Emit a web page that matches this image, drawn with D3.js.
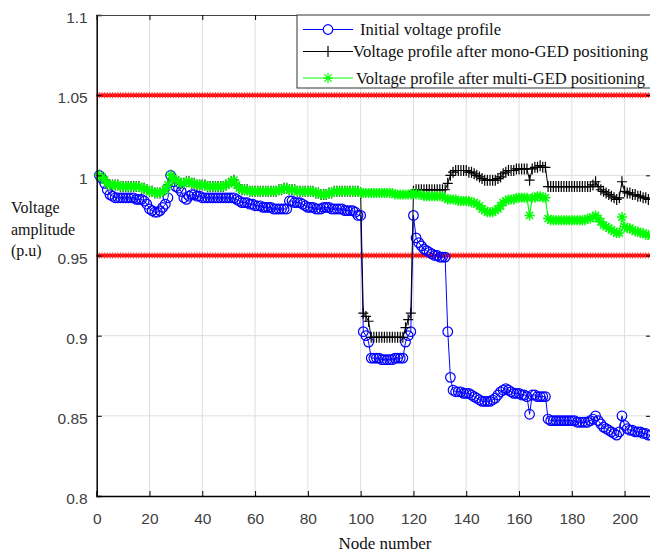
<!DOCTYPE html>
<html>
<head>
<meta charset="utf-8">
<script src="https://cdn.jsdelivr.net/npm/d3@7"></script>
<style>
  body { margin: 0; background: #fff; }
  svg { display: block; }
</style>
</head>
<body>
<svg width="650" height="554"></svg>
<script>
// voltage per node (p.u), node number = index + 1
const initialV = [
  1.000, 0.998, 0.995, 0.991, 0.988, 0.987, 0.986, 0.986, 0.986, 0.986,
  0.986, 0.986, 0.986, 0.986, 0.985, 0.985, 0.985, 0.984, 0.982, 0.979,
  0.978, 0.977, 0.977, 0.978, 0.980, 0.982, 0.986, 1.000, 0.996, 0.993,
  0.992, 0.990, 0.986, 0.985, 0.987, 0.988, 0.988, 0.987, 0.987, 0.986,
  0.986, 0.986, 0.986, 0.986, 0.986, 0.986, 0.986, 0.986, 0.986, 0.986,
  0.986, 0.986, 0.985, 0.984, 0.983, 0.983, 0.983, 0.982, 0.982, 0.981,
  0.981, 0.981, 0.980, 0.980, 0.980, 0.980, 0.979, 0.979, 0.979, 0.979,
  0.979, 0.979, 0.984, 0.984, 0.983, 0.983, 0.983, 0.982, 0.981, 0.980,
  0.980, 0.980, 0.979, 0.979, 0.979, 0.980, 0.980, 0.980, 0.979, 0.979,
  0.979, 0.979, 0.979, 0.978, 0.978, 0.978, 0.978, 0.977, 0.975, 0.975,
  0.9025, 0.900, 0.896, 0.886, 0.886, 0.886, 0.886, 0.885, 0.885, 0.885,
  0.885, 0.885, 0.886, 0.886, 0.886, 0.886, 0.896, 0.900, 0.9025, 0.975,
  0.961, 0.958, 0.956, 0.954, 0.953, 0.952, 0.951, 0.950, 0.950, 0.949,
  0.949, 0.949, 0.9025, 0.874, 0.866, 0.865, 0.865, 0.865, 0.864, 0.864,
  0.864, 0.863, 0.862, 0.861, 0.860, 0.859, 0.859, 0.859, 0.859, 0.860,
  0.861, 0.863, 0.865, 0.866, 0.867, 0.866, 0.865, 0.864, 0.864, 0.864,
  0.863, 0.863, 0.862, 0.851, 0.863, 0.863, 0.862, 0.862, 0.862, 0.862,
  0.848, 0.847, 0.847, 0.847, 0.847, 0.847, 0.847, 0.847, 0.847, 0.847,
  0.847, 0.846, 0.846, 0.846, 0.846, 0.846, 0.847, 0.848, 0.850, 0.847,
  0.845, 0.843, 0.842, 0.841, 0.840, 0.839, 0.838, 0.840, 0.850, 0.844,
  0.842, 0.841, 0.841, 0.840, 0.840, 0.840, 0.839, 0.839, 0.838, 0.838
];

const monoV = [
  1.000, 0.999, 0.997, 0.995, 0.994, 0.994, 0.994, 0.994, 0.993, 0.993,
  0.993, 0.993, 0.993, 0.993, 0.993, 0.993, 0.992, 0.992, 0.991, 0.990,
  0.990, 0.989, 0.989, 0.989, 0.990, 0.991, 0.994, 1.000, 0.998, 0.997,
  0.996, 0.995, 0.995, 0.996, 0.996, 0.995, 0.995, 0.994, 0.994, 0.994,
  0.994, 0.993, 0.993, 0.993, 0.993, 0.993, 0.993, 0.993, 0.994, 0.995,
  0.996, 0.997, 0.994, 0.992, 0.991, 0.991, 0.991, 0.990, 0.990, 0.990,
  0.990, 0.990, 0.990, 0.990, 0.990, 0.990, 0.990, 0.990, 0.991, 0.991,
  0.992, 0.992, 0.991, 0.991, 0.991, 0.990, 0.990, 0.990, 0.990, 0.990,
  0.990, 0.990, 0.989, 0.989, 0.988, 0.988, 0.988, 0.989, 0.989, 0.990,
  0.990, 0.990, 0.990, 0.990, 0.990, 0.990, 0.990, 0.990, 0.990, 0.989,
  0.914, 0.912, 0.909, 0.899, 0.899, 0.899, 0.899, 0.899, 0.899, 0.899,
  0.899, 0.899, 0.899, 0.899, 0.899, 0.899, 0.905, 0.910, 0.914, 0.990,
  0.991, 0.991, 0.991, 0.991, 0.991, 0.991, 0.991, 0.991, 0.991, 0.991,
  0.991, 0.991, 0.995, 1.000, 1.002, 1.003, 1.003, 1.003, 1.003, 1.003,
  1.002, 1.002, 1.001, 1.000, 0.999, 0.998, 0.997, 0.997, 0.997, 0.997,
  0.997, 0.998, 0.999, 1.001, 1.002, 1.003, 1.003, 1.003, 1.004, 1.004,
  1.004, 1.004, 1.004, 0.997, 1.004, 1.005, 1.005, 1.006, 1.005, 1.005,
  0.993, 0.993, 0.993, 0.993, 0.993, 0.993, 0.993, 0.993, 0.993, 0.993,
  0.993, 0.993, 0.993, 0.993, 0.993, 0.993, 0.993, 0.994, 0.996, 0.993,
  0.991, 0.990, 0.989, 0.988, 0.987, 0.986, 0.985, 0.986, 0.996, 0.990,
  0.989, 0.989, 0.988, 0.988, 0.987, 0.987, 0.986, 0.986, 0.985, 0.985
];

const multiV = [
  1.000, 0.999, 0.997, 0.995, 0.994, 0.994, 0.994, 0.994, 0.993, 0.993,
  0.993, 0.993, 0.993, 0.993, 0.993, 0.993, 0.992, 0.992, 0.991, 0.990,
  0.990, 0.989, 0.989, 0.989, 0.990, 0.991, 0.994, 1.000, 0.998, 0.997,
  0.996, 0.995, 0.995, 0.996, 0.996, 0.995, 0.995, 0.994, 0.994, 0.994,
  0.994, 0.993, 0.993, 0.993, 0.993, 0.993, 0.993, 0.993, 0.994, 0.995,
  0.996, 0.997, 0.994, 0.992, 0.991, 0.991, 0.991, 0.990, 0.990, 0.990,
  0.990, 0.990, 0.990, 0.990, 0.990, 0.990, 0.990, 0.990, 0.991, 0.991,
  0.992, 0.992, 0.991, 0.991, 0.991, 0.990, 0.990, 0.990, 0.990, 0.990,
  0.990, 0.990, 0.989, 0.989, 0.988, 0.988, 0.988, 0.989, 0.989, 0.990,
  0.990, 0.990, 0.990, 0.990, 0.990, 0.990, 0.990, 0.990, 0.990, 0.989,
  0.989, 0.989, 0.989, 0.989, 0.989, 0.989, 0.989, 0.989, 0.989, 0.989,
  0.989, 0.989, 0.988, 0.988, 0.988, 0.988, 0.988, 0.988, 0.988, 0.989,
  0.988, 0.988, 0.988, 0.987, 0.987, 0.987, 0.987, 0.987, 0.987, 0.987,
  0.987, 0.986, 0.985, 0.985, 0.985, 0.985, 0.984, 0.984, 0.984, 0.984,
  0.984, 0.983, 0.983, 0.982, 0.981, 0.979, 0.978, 0.977, 0.977, 0.977,
  0.978, 0.979, 0.981, 0.983, 0.984, 0.985, 0.985, 0.985, 0.986, 0.986,
  0.986, 0.986, 0.986, 0.975, 0.986, 0.986, 0.987, 0.987, 0.986, 0.986,
  0.973, 0.972, 0.972, 0.972, 0.972, 0.972, 0.972, 0.972, 0.972, 0.972,
  0.972, 0.972, 0.972, 0.972, 0.972, 0.973, 0.973, 0.974, 0.975, 0.973,
  0.971, 0.969, 0.968, 0.967, 0.966, 0.965, 0.964, 0.964, 0.974, 0.968,
  0.967, 0.967, 0.966, 0.965, 0.965, 0.964, 0.964, 0.963, 0.963, 0.962
];

const limits = [1.05, 0.95];
const xTicks = [0, 20, 40, 60, 80, 100, 120, 140, 160, 180, 200];
const yTicks = [0.8, 0.85, 0.9, 0.95, 1, 1.05, 1.1];
const legendLabels = [
  "Initial voltage profile",
  "Voltage profile after mono-GED positioning",
  "Voltage profile after multi-GED positioning"
];

let pLeft = 96.7, pRight = 651, pTop = 15, pBottom = 496;

let svg = d3.select("svg");

let xScale = d3.scaleLinear().domain([0, 210]).range([pLeft, pRight]);
let yScale = d3.scaleLinear().domain([0.8, 1.1]).range([pBottom, pTop]);

let nodes = initialV.map((v, i) => i + 1);

let line = (vals) => d3.line()
    .x((d, i) => xScale(nodes[i]))
    .y(d => yScale(d))(vals);

// grid
let grid = svg.append("g").attr("stroke", "#dedede").attr("stroke-width", 1);
grid.selectAll(".gx")
    .data(xTicks.slice(1))
    .enter()
    .append("line")
    .attr("x1", d => xScale(d)).attr("x2", d => xScale(d))
    .attr("y1", pTop).attr("y2", pBottom);
grid.selectAll(".gy")
    .data(yTicks.slice(1, -1))
    .enter()
    .append("line")
    .attr("x1", pLeft).attr("x2", pRight)
    .attr("y1", d => yScale(d)).attr("y2", d => yScale(d));

// limit lines
limits.forEach(l => {
    svg.append("line")
        .attr("x1", pLeft).attr("x2", pRight)
        .attr("y1", yScale(l)).attr("y2", yScale(l))
        .attr("stroke", "#ff0000")
        .attr("stroke-width", 3.5);
    svg.append("g").selectAll("line")
        .data(nodes)
        .enter()
        .append("line")
        .attr("x1", d => xScale(d)).attr("x2", d => xScale(d))
        .attr("y1", yScale(l) - 3).attr("y2", yScale(l) + 3)
        .attr("stroke", "#ff3030")
        .attr("stroke-width", 1);
});

let plusPath = "M-5,0H5M0,-5.5V5.5";
let starPath = "M-5,0H5M0,-5V5M-3.6,-3.6L3.6,3.6M-3.6,3.6L3.6,-3.6";

// initial profile
svg.append("path")
    .attr("d", line(initialV))
    .attr("fill", "none")
    .attr("stroke", "#0000ff")
    .attr("stroke-width", 1);
svg.append("g").selectAll("circle")
    .data(initialV)
    .enter()
    .append("circle")
    .attr("cx", (d, i) => xScale(nodes[i]))
    .attr("cy", d => yScale(d))
    .attr("r", 4.8)
    .attr("fill", "none")
    .attr("stroke", "#0000ff")
    .attr("stroke-width", 1.2);

// mono-GED
svg.append("path")
    .attr("d", line(monoV))
    .attr("fill", "none")
    .attr("stroke", "#000")
    .attr("stroke-width", 1);
svg.append("g").selectAll("path")
    .data(monoV)
    .enter()
    .append("path")
    .attr("d", plusPath)
    .attr("transform", (d, i) => "translate(" + xScale(nodes[i]) + "," + yScale(d) + ")")
    .attr("stroke", "#000")
    .attr("stroke-width", 1.2);

// multi-GED
svg.append("path")
    .attr("d", line(multiV))
    .attr("fill", "none")
    .attr("stroke", "#00ff00")
    .attr("stroke-width", 1.2);
svg.append("g").selectAll("path")
    .data(multiV)
    .enter()
    .append("path")
    .attr("d", starPath)
    .attr("transform", (d, i) => "translate(" + xScale(nodes[i]) + "," + yScale(d) + ")")
    .attr("stroke", "#00ff00")
    .attr("stroke-width", 1.5);

// axes
let xAxis = d3.axisBottom(xScale)
    .tickValues(xTicks)
    .tickSize(-5)
    .tickPadding(17)
    .tickFormat(d3.format("d"));
let gx = svg.append("g")
    .attr("transform", "translate(0," + pBottom + ")")
    .call(xAxis);
gx.select(".domain").attr("stroke", "#000").attr("stroke-width", 1.5);

let yAxis = d3.axisLeft(yScale)
    .tickValues(yTicks)
    .tickSize(-5)
    .tickPadding(9)
    .tickFormat(d => d);
let gy = svg.append("g")
    .attr("transform", "translate(" + pLeft + ",0)")
    .call(yAxis);
gy.select(".domain").attr("stroke", "#000").attr("stroke-width", 1.5);
gy.selectAll("text").attr("dy", "0.5em");

svg.append("g")
    .attr("transform", "translate(0," + pTop + ")")
    .call(d3.axisTop(xScale).tickValues(xTicks).tickSize(-5).tickFormat(""))
    .select(".domain").attr("stroke", "#444");
svg.append("g")
    .attr("transform", "translate(" + pRight + ",0)")
    .call(d3.axisRight(yScale).tickValues(yTicks).tickSize(-5).tickFormat(""));

svg.selectAll(".tick text")
    .attr("fill", "#404040")
    .style("font-family", "Liberation Sans, Arial, sans-serif")
    .style("font-size", "15.5px");

// axis titles
svg.append("text")
    .attr("x", 385).attr("y", 549)
    .attr("text-anchor", "middle")
    .style("font-family", "Liberation Serif, serif")
    .style("font-size", "17px")
    .attr("fill", "#111")
    .text("Node number");

let yTitle = ["Voltage", "amplitude", "(p.u)"];
svg.append("g").selectAll("text")
    .data(yTitle)
    .enter()
    .append("text")
    .attr("x", 11)
    .attr("y", (d, i) => 213 + i * 21.5)
    .style("font-family", "Liberation Serif, serif")
    .style("font-size", "16px")
    .attr("fill", "#111")
    .text(d => d);

// legend
let legend = svg.append("g");
legend.append("rect")
    .attr("x", 297).attr("y", 15)
    .attr("width", 370).attr("height", 73)
    .attr("fill", "#fff")
    .attr("stroke", "#333")
    .attr("stroke-width", 1);

let legendY = [29.5, 51.5, 78];
let legendTextX = [360, 353, 356];
let legendTextW = [141, 295, 289];
let legendColors = ["#0000ff", "#000", "#00ff00"];

legendLabels.forEach((lab, i) => {
    legend.append("line")
        .attr("x1", 303).attr("x2", 353)
        .attr("y1", legendY[i]).attr("y2", legendY[i])
        .attr("stroke", legendColors[i])
        .attr("stroke-width", 1);
    if (i == 0) {
        legend.append("circle")
            .attr("cx", 328).attr("cy", legendY[i]).attr("r", 4.8)
            .attr("fill", "#fff").attr("stroke", "#0000ff").attr("stroke-width", 1.2);
    } else {
        legend.append("path")
            .attr("d", i == 1 ? plusPath : starPath)
            .attr("transform", "translate(328," + legendY[i] + ")")
            .attr("stroke", legendColors[i])
            .attr("stroke-width", 1.2);
    }
    legend.append("text")
        .attr("x", legendTextX[i])
        .attr("y", legendY[i] + 5.5)
        .attr("textLength", legendTextW[i])
        .attr("lengthAdjust", "spacingAndGlyphs")
        .style("font-family", "Liberation Serif, serif")
        .style("font-size", "16px")
        .attr("fill", "#111")
        .text(lab);
});
</script>
</body>
</html>
